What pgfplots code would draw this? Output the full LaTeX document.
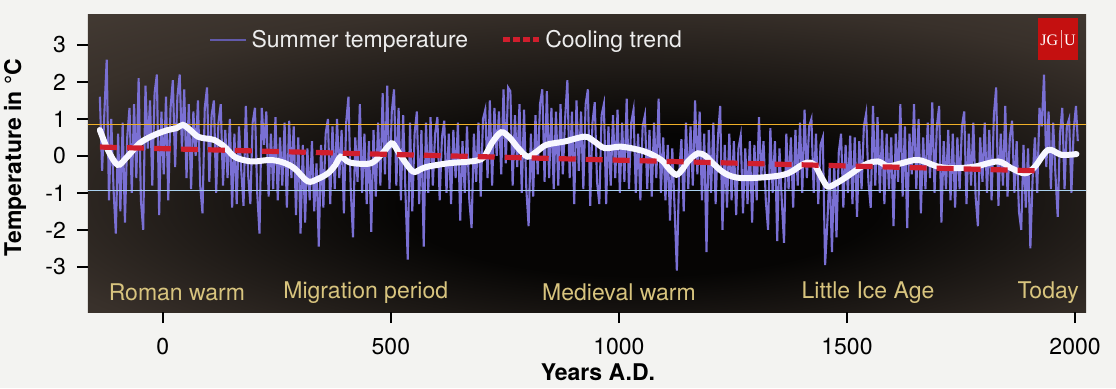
\documentclass[border=0pt]{standalone}
\usepackage{pgfplots}
\pgfplotsset{compat=1.18}
\usepackage{fontspec}
\setmainfont{TeX Gyre Heros}
\newfontfamily\logofont{Liberation Serif}
\definecolor{pagebg}{RGB}{243,243,241}
\definecolor{bge}{RGB}{98,88,80}
\definecolor{bgo}{RGB}{80,70,62}
\definecolor{bgm}{RGB}{56,48,42}
\definecolor{bgc}{RGB}{6,5,4}
\definecolor{tempc}{RGB}{122,112,212}
\definecolor{trendc}{RGB}{208,30,45}
\definecolor{periodc}{RGB}{216,196,126}
\definecolor{warmline}{RGB}{240,176,40}
\definecolor{coldline}{RGB}{170,210,240}
\definecolor{logored}{RGB}{196,16,16}
\pgfdeclareradialshading{bgshade}{\pgfpoint{3bp}{-8bp}}{color(0bp)=(bgc); color(12bp)=(bgc); color(32bp)=(bgm); color(50bp)=(bgo); color(70bp)=(bge); color(90bp)=(bge)}
\begin{document}
\begin{tikzpicture}
\fill[pagebg] (-44pt,-38pt) rectangle (514pt,156pt);
\begin{axis}[
  at={(0,0)}, anchor=south west,
  scale only axis, width=499pt, height=148.5pt,
  xmin=-164, xmax=2024, ymin=-4.22, ymax=3.81,
  axis background/.style={shade, shading=bgshade},
  axis line style={draw=none},
  tick align=outside, tick pos=left,
  major tick length=5.5pt,
  tick style={black, line width=1pt},
  xtick={0,500,1000,1500,2000}, xticklabels={0,500,1000,1500,2000},
  ytick={-3,-2,-1,0,1,2,3}, yticklabels={-3,-2,-1,0,1,2,3},
  font=\fontsize{11.5}{13}\selectfont,
  xticklabel style={font=\fontsize{11.5}{13}\selectfont, yshift=-4pt},
  yticklabel style={font=\fontsize{11.5}{13}\selectfont, xshift=-2pt},
  xlabel={\bfseries Years A.D.},
  ylabel={\bfseries Temperature in °C},
  every axis x label/.style={at={(axis description cs:0.511,-0.202)}, anchor=center, font=\fontsize{11.5}{13}\selectfont},
  every axis y label/.style={at={(axis description cs:-0.0731,0.52)}, rotate=90, anchor=center, font=\fontsize{11.5}{13}\selectfont},
  legend image code/.code={\draw[#1] (0pt,0pt) -- (18pt,0pt);},
  legend style={at={(0.115,0.916)}, anchor=west, draw=none, fill=none,
    text=white!93!black, font=\fontsize{11.5}{13}\selectfont,
    legend columns=2, /tikz/every even column/.append style={column sep=14pt}},
]
\addlegendimage{tempc!80!black, line width=1.2pt}
\addlegendentry{Summer temperature}
\addlegendimage{trendc, line width=2.5pt, dash pattern=on 3.5pt off 1.5pt}
\addlegendentry{Cooling trend}
% summer temperature (read at ~5-year spacing)
\addplot[tempc, line width=1.05pt, line join=miter, forget plot] coordinates {
(-138,1.6)(-133,-0.4)(-128,1.2)(-123,2.6)(-118,-1.2)(-113,1.0)(-108,-0.9)(-103,-2.1)(-98,0.6)(-93,-1.5)
(-88,0.9)(-83,-1.8)(-78,0.5)(-73,1.3)(-68,-1.0)(-63,1.4)(-58,-0.6)(-53,2.1)(-48,-1.2)(-43,-2.0)
(-38,1.9)(-33,0.2)(-28,1.5)(-23,-0.8)(-18,1.7)(-13,2.2)(-8,-1.6)(-3,1.2)(2,-0.5)(7,1.6)
(12,-1.2)(17,1.3)(22,2.05)(27,-0.3)(32,1.6)(37,2.2)(42,0.2)(47,1.8)(52,-0.6)(57,1.4)
(62,-0.9)(67,1.2)(72,0.0)(77,1.5)(82,-0.8)(87,-1.55)(92,1.3)(97,1.85)(102,-0.7)(107,1.1)
(112,1.5)(117,-1.0)(122,0.9)(127,1.4)(132,-0.8)(137,0.7)(142,-0.6)(147,1.0)(152,-1.4)(157,0.6)
(162,-1.3)(167,0.8)(172,-0.4)(177,-1.35)(182,1.35)(187,-0.5)(192,-1.3)(197,0.9)(202,1.3)(207,-1.0)
(212,-2.1)(217,1.3)(222,0.3)(227,1.2)(232,-1.1)(237,0.6)(242,-0.9)(247,1.05)(252,-1.2)(257,0.5)
(262,-0.8)(267,0.9)(272,-1.4)(277,0.95)(282,-0.6)(287,0.8)(292,-1.6)(297,0.5)(302,-2.1)(307,0.3)
(312,-1.8)(317,0.2)(322,-1.2)(327,0.4)(332,-1.5)(337,-0.2)(342,-2.45)(347,0.3)(352,-1.4)(357,0.6)
(362,1.0)(367,-1.3)(372,0.8)(377,-0.9)(382,1.0)(387,-0.6)(392,0.7)(397,-1.55)(402,0.9)(407,1.6)
(412,-0.9)(417,-2.2)(422,0.5)(427,-0.7)(432,1.4)(437,-1.0)(442,0.6)(447,-1.3)(452,0.4)(457,-2.05)
(462,0.7)(467,-1.1)(472,0.9)(477,-0.8)(482,1.7)(487,-0.5)(492,1.9)(497,-0.9)(502,1.2)(507,1.8)
(512,-0.8)(517,1.3)(522,-1.2)(527,1.1)(532,-1.0)(537,-2.8)(542,0.9)(547,-1.5)(552,0.6)(557,1.2)
(562,-1.3)(567,0.7)(572,-2.45)(577,0.9)(582,-1.0)(587,1.05)(592,-0.8)(597,0.6)(602,1.05)(607,-1.2)
(612,0.5)(617,0.95)(622,-1.0)(627,0.6)(632,-1.3)(637,0.7)(642,-0.6)(647,0.9)(652,-1.75)(657,0.4)
(662,-1.0)(667,0.8)(672,-1.2)(677,-1.95)(682,0.6)(687,-0.7)(692,0.9)(697,-1.1)(702,1.0)(707,1.25)
(712,-0.6)(717,1.5)(722,-0.8)(727,1.3)(732,0.0)(737,1.2)(742,-0.5)(747,1.8)(752,-0.2)(757,1.85)
(762,1.75)(767,-0.8)(772,1.1)(777,-0.3)(782,1.4)(787,-1.0)(792,1.25)(797,-0.9)(802,-1.9)(807,0.6)
(812,-1.1)(817,1.1)(822,-0.5)(827,1.4)(832,1.8)(837,-0.7)(842,1.75)(847,-0.6)(852,1.3)(857,-0.9)
(862,1.2)(867,-0.8)(872,1.4)(877,-0.5)(882,1.0)(887,2.05)(892,-0.6)(897,1.2)(902,-1.3)(907,1.5)
(912,-0.4)(917,1.2)(922,-0.9)(927,1.4)(932,1.8)(937,-1.35)(942,0.9)(947,1.45)(952,-0.7)(957,-1.3)
(962,1.1)(967,1.4)(972,-1.3)(977,0.8)(982,-0.8)(987,1.1)(992,-0.6)(997,1.25)(1002,-1.0)(1007,0.9)
(1012,-0.7)(1017,1.55)(1022,-0.9)(1027,0.9)(1032,1.25)(1037,-1.0)(1042,0.6)(1047,-1.2)(1052,0.8)(1057,1.1)
(1062,-0.9)(1067,0.7)(1072,-1.1)(1077,0.9)(1082,-0.6)(1087,1.55)(1092,-1.0)(1097,0.5)(1102,-1.2)(1107,0.3)
(1112,-1.75)(1117,0.2)(1122,-1.4)(1127,-3.1)(1132,-0.5)(1137,0.45)(1142,-1.5)(1147,0.9)(1152,-0.9)(1157,0.8)
(1162,-0.8)(1167,1.5)(1172,-0.5)(1177,1.2)(1182,-1.2)(1187,0.6)(1192,-2.6)(1197,0.7)(1202,-1.0)(1207,0.9)
(1212,-1.3)(1217,0.5)(1222,1.35)(1227,-2.0)(1232,0.3)(1237,-1.4)(1242,0.6)(1247,-1.2)(1252,0.4)(1257,-1.6)
(1262,0.2)(1267,0.55)(1272,-1.55)(1277,0.2)(1282,-1.3)(1287,0.4)(1292,-1.8)(1297,0.3)(1302,-1.2)(1307,1.05)
(1312,-0.6)(1317,0.4)(1322,-1.2)(1327,-2.0)(1332,0.75)(1337,-1.0)(1342,0.4)(1347,-2.3)(1352,0.2)(1357,-1.2)
(1362,-2.35)(1367,0.6)(1372,-0.9)(1377,0.5)(1382,-1.4)(1387,0.7)(1392,-0.8)(1397,0.9)(1402,-1.0)(1407,1.25)
(1412,-0.6)(1417,0.8)(1422,1.0)(1427,-1.0)(1432,0.6)(1437,-1.3)(1442,0.3)(1447,0.5)(1452,-2.95)(1457,-1.8)
(1462,-0.3)(1467,-2.6)(1472,-0.2)(1477,-2.2)(1482,0.1)(1487,0.6)(1492,-1.4)(1497,0.3)(1502,-1.0)(1507,0.55)
(1512,-1.3)(1517,0.5)(1522,-1.65)(1527,0.4)(1532,-0.9)(1537,0.8)(1542,1.15)(1547,-0.7)(1552,-1.4)(1557,1.35)
(1562,-0.8)(1567,1.05)(1572,-1.0)(1577,0.7)(1582,-1.3)(1587,0.6)(1592,-0.9)(1597,0.5)(1602,-1.9)(1607,0.6)
(1612,-0.7)(1617,1.4)(1622,-1.1)(1627,0.8)(1632,-1.95)(1637,0.6)(1642,-0.5)(1647,1.4)(1652,-0.9)(1657,1.0)
(1662,-1.55)(1667,0.5)(1672,-0.9)(1677,0.9)(1682,-0.6)(1687,1.45)(1692,-1.0)(1697,0.8)(1702,1.35)(1707,-1.8)
(1712,0.4)(1717,-0.9)(1722,0.7)(1727,-1.2)(1732,0.6)(1737,-1.4)(1742,0.5)(1747,-0.9)(1752,0.8)(1757,1.2)
(1762,-1.3)(1767,0.6)(1772,-0.8)(1777,0.9)(1782,-1.1)(1787,-1.9)(1792,0.5)(1797,-0.7)(1802,0.9)(1807,-1.0)
(1812,0.7)(1817,-1.2)(1822,1.1)(1827,1.85)(1832,-1.35)(1837,0.6)(1842,-0.8)(1847,1.35)(1852,-1.1)(1857,0.5)
(1862,0.95)(1867,-1.0)(1872,0.4)(1877,-1.5)(1882,-2.0)(1887,0.3)(1892,-1.4)(1897,0.2)(1902,-2.5)(1907,-0.6)
(1912,0.5)(1917,-1.0)(1922,1.3)(1927,0.8)(1932,2.2)(1937,-0.3)(1942,1.2)(1947,-0.9)(1952,0.9)(1957,-0.5)
(1962,-1.65)(1967,0.6)(1972,1.3)(1977,-0.9)(1982,0.8)(1987,1.0)(1992,-1.0)(1997,0.7)(2002,1.35)(2006,0.4)
};
% reference lines
\addplot[warmline, line width=0.6pt, forget plot] coordinates {(-164,0.86)(2024,0.86)};
\addplot[coldline, line width=0.6pt, forget plot] coordinates {(-164,-0.94)(2024,-0.94)};
% smoothed curve
\addplot[white!97!blue, line width=3pt, smooth, tension=0.55, line cap=round, forget plot] coordinates {
(-138,0.70)(-120,0.15)(-99,-0.24)(-80,-0.05)(-50,0.35)(-18,0.57)(11,0.70)(30,0.75)(44,0.84)(60,0.70)
(77,0.52)(95,0.47)(113,0.43)(135,0.25)(157,-0.02)(180,-0.12)(201,-0.15)(237,-0.11)(267,-0.19)(290,-0.35)
(318,-0.69)(340,-0.62)(362,-0.47)(378,-0.25)(390,-0.02)(405,-0.15)(420,-0.20)(456,-0.20)(480,0.05)(501,0.34)
(512,0.20)(523,-0.02)(548,-0.42)(565,-0.36)(581,-0.29)(625,-0.20)(665,-0.16)(690,-0.12)(705,-0.02)(722,0.36)
(742,0.64)(760,0.50)(780,0.20)(800,-0.02)(820,0.12)(841,0.30)(881,0.39)(925,0.52)(945,0.40)(969,0.21)
(1005,0.25)(1056,0.12)(1093,-0.11)(1110,-0.35)(1126,-0.51)(1140,-0.35)(1151,-0.15)(1173,0.07)(1190,0.00)(1202,-0.15)
(1232,-0.47)(1268,-0.60)(1334,-0.56)(1371,-0.47)(1400,-0.25)(1414,-0.18)(1429,-0.24)(1445,-0.60)(1458,-0.83)(1475,-0.75)
(1495,-0.60)(1539,-0.24)(1568,-0.15)(1590,-0.28)(1619,-0.20)(1656,-0.11)(1700,-0.29)(1736,-0.33)(1780,-0.29)(1831,-0.15)
(1860,-0.33)(1890,-0.47)(1912,-0.29)(1941,0.16)(1970,0.03)(2003,0.05)
};
% cooling trend
\addplot[trendc, line width=2.6pt, dash pattern=on 8.5pt off 5pt, forget plot] coordinates {(-138,0.24)(1912,-0.40)};
% period labels
\node[periodc] at (axis cs:31,-3.70) {Roman warm};
\node[periodc] at (axis cs:445,-3.70) {Migration period};
\node[periodc] at (axis cs:1000,-3.70) {Medieval warm};
\node[periodc] at (axis cs:1546,-3.70) {Little Ice Age};
\node[periodc] at (axis cs:1941,-3.70) {Today};
% logo
\node[fill=logored, minimum width=20pt, minimum height=21pt, inner sep=0pt, text=white,
  font=\logofont\fontsize{8}{9}\selectfont] at (rel axis cs:0.972,0.919)
  {JG\,{\color{white!70!logored}\rule[-1.5pt]{0.4pt}{9pt}}\,U};
\end{axis}
\pgfresetboundingbox
\useasboundingbox (-44pt,-38pt) rectangle (514pt,156pt);
\end{tikzpicture}
\end{document}
